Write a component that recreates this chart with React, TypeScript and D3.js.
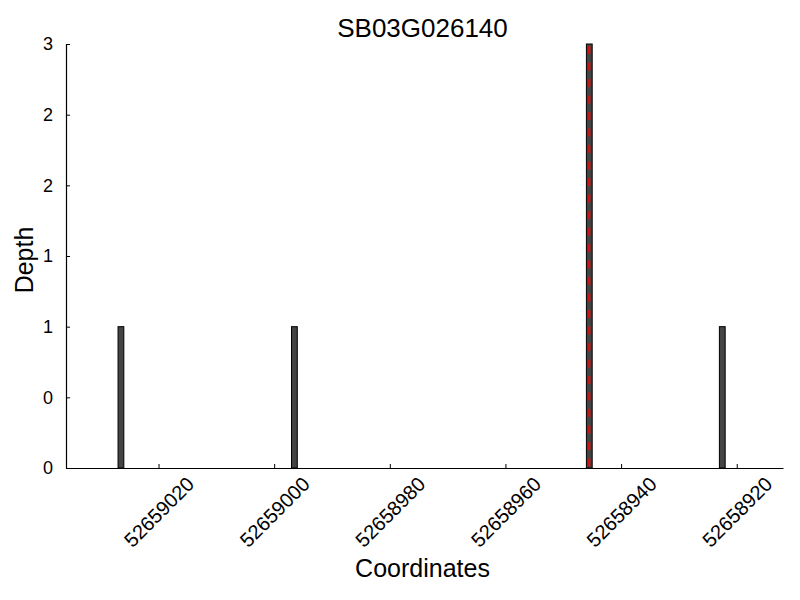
import React, { useEffect, useRef } from 'react';
import * as d3 from 'd3';

const title = 'SB03G026140';
const positions = [52659026, 52658996, 52658945, 52658922];
const depths = [1, 1, 3, 1];
const xTicks = [52659020, 52659000, 52658980, 52658960, 52658940, 52658920];
const yTicks = [0, 0.5, 1, 1.5, 2, 2.5, 3];
const yTickLabels = ['0', '0', '1', '1', '2', '2', '3'];
const markerPos = 52658945.5;

const App = () => {
  const ref = useRef<SVGSVGElement>(null);

  useEffect(() => {
    const svg = d3.select(ref.current);
    svg.selectAll('*').remove();
    const left = 66, right = 783, top = 44, bottom = 468;
    const font = 'Liberation Sans, Arial, sans-serif';

    const x = d3.scaleLinear().domain([52659036, 52658912]).range([left, right]);
    const y = d3.scaleLinear().domain([0, 3]).range([bottom, top]);

    // bars
    svg.append('g')
      .selectAll('rect')
      .data(positions)
      .enter()
      .append('rect')
      .attr('x', (d) => x(d + 1))
      .attr('width', (d) => x(d) - x(d + 1))
      .attr('y', (d, i) => y(depths[i]))
      .attr('height', (d, i) => y(0) - y(depths[i]))
      .attr('fill', '#444444')
      .attr('stroke', '#000')
      .attr('stroke-width', 1);

    // red dashed marker
    svg.append('line')
      .attr('x1', x(markerPos))
      .attr('x2', x(markerPos))
      .attr('y1', y(3) + 2)
      .attr('y2', y(0))
      .attr('stroke', '#ff0000')
      .attr('stroke-width', 2)
      .attr('stroke-dasharray', '8,8.5');

    // x axis
    const xAxis = svg.append('g').attr('transform', `translate(0,${bottom})`);
    xAxis.call(
      d3.axisBottom(x)
        .tickValues(xTicks)
        .tickSizeInner(-4)
        .tickSizeOuter(0)
        .tickFormat(d3.format('d'))
    );
    xAxis.select('.domain').attr('stroke', '#000').attr('stroke-width', 1.2);
    xAxis.selectAll('.tick text')
      .attr('font-family', font)
      .attr('font-size', 20)
      .attr('fill', '#000')
      .style('text-anchor', 'middle')
      .attr('dominant-baseline', 'central')
      .attr('dy', null)
      .attr('x', 0)
      .attr('y', 0)
      .attr('transform', 'translate(0,44) rotate(-45)');

    // y axis
    const yAxis = svg.append('g').attr('transform', `translate(${left},0)`);
    yAxis.call(
      d3.axisLeft(y)
        .tickValues(yTicks)
        .tickSizeInner(-4)
        .tickSizeOuter(0)
        .tickPadding(13)
        .tickFormat((d, i) => yTickLabels[i])
    );
    yAxis.select('.domain').attr('stroke', '#000').attr('stroke-width', 1.2);
    yAxis.selectAll('.tick text')
      .attr('font-family', font)
      .attr('font-size', 18)
      .attr('fill', '#000');

    // labels
    svg.append('text')
      .attr('x', (left + right) / 2 - 2)
      .attr('y', 37)
      .attr('text-anchor', 'middle')
      .attr('font-family', font)
      .attr('font-size', 26)
      .text(title);
    svg.append('text')
      .attr('x', (left + right) / 2 - 2)
      .attr('y', 577)
      .attr('text-anchor', 'middle')
      .attr('font-family', font)
      .attr('font-size', 25)
      .text('Coordinates');
    svg.append('text')
      .attr('transform', `translate(33,${(top + bottom) / 2 + 4}) rotate(-90)`)
      .attr('text-anchor', 'middle')
      .attr('font-family', font)
      .attr('font-size', 25)
      .text('Depth');
  }, []);

  return (
    <svg
      ref={ref}
      width={800}
      height={600}
      style={{ position: 'absolute', left: 0, top: 0, background: '#fff' }}
    />
  );
};

export default App;
